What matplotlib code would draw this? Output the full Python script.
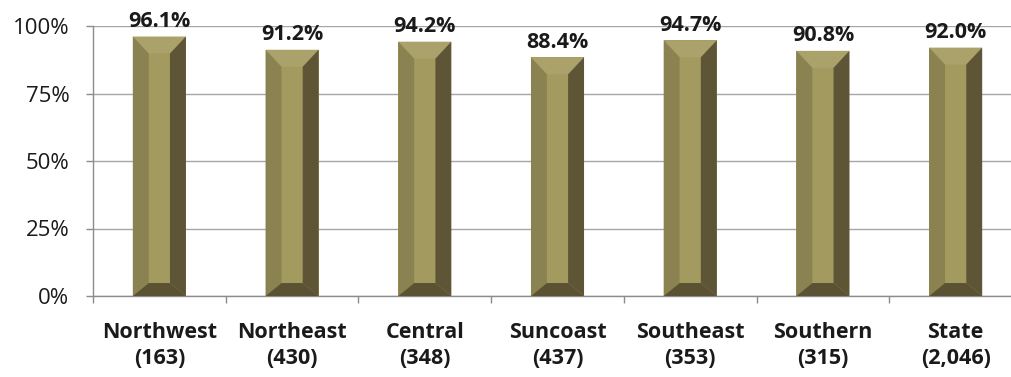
import matplotlib
matplotlib.use("Agg")
import matplotlib.pyplot as plt
from matplotlib.patches import Polygon
from matplotlib.ticker import FixedLocator, PercentFormatter

regions = ["Northwest", "Northeast", "Central", "Suncoast", "Southeast", "Southern", "State"]
counts = ["163", "430", "348", "437", "353", "315", "2,046"]
rates = [96.1, 91.2, 94.2, 88.4, 94.7, 90.8, 92.0]

plt.rcParams['font.family'] = ['Open Sans', 'DejaVu Sans']

fig = plt.figure(figsize=(10.12, 3.77), dpi=100)
ax = fig.add_axes([93/1012, 81/377, 929/1012, 270/377])

x = list(range(len(regions)))
bars = ax.bar(x, rates, width=0.4, color="#a39a60", zorder=3)

# bevelled look: light top, mid left, dark right and bottom
dx = 0.12
dy_top = 6.3
dy_bot = 4.8
for b in bars:
    x0 = b.get_x()
    x1 = x0 + b.get_width()
    y0 = 0
    y1 = b.get_height()
    sides = [
        ([(x0, y1), (x1, y1), (x1 - dx, y1 - dy_top), (x0 + dx, y1 - dy_top)], "#aaa26a"),
        ([(x0, y0), (x0, y1), (x0 + dx, y1 - dy_top), (x0 + dx, y0 + dy_bot)], "#8a8250"),
        ([(x1, y0), (x1, y1), (x1 - dx, y1 - dy_top), (x1 - dx, y0 + dy_bot)], "#5d5535"),
        ([(x0, y0), (x1, y0), (x1 - dx, y0 + dy_bot), (x0 + dx, y0 + dy_bot)], "#5a5233"),
    ]
    for pts, c in sides:
        ax.add_patch(Polygon(pts, closed=True, facecolor=c, edgecolor="none", zorder=4))
    ax.annotate(f"{y1:.1f}%", (b.get_x() + b.get_width() / 2, y1),
                xytext=(0, 7), textcoords="offset points", ha="center", va="baseline",
                fontsize=15.5, fontweight="bold", color="#1a1a1a", zorder=5)

ax.set_xlim(-0.5, 6.5)
ax.set_ylim(0, 100)
ax.yaxis.set_major_locator(FixedLocator([0, 25, 50, 75, 100]))
ax.yaxis.set_major_formatter(PercentFormatter(decimals=0))
ax.grid(axis="y", color="#a6a6a6", linewidth=1, zorder=0)

ax.set_xticks([i - 0.5 for i in range(len(regions) + 1)])
ax.set_xticklabels([])
ax.set_xticks(x, minor=True)
ax.set_xticklabels([f"{r}\n({c})" for r, c in zip(regions, counts)], minor=True,
                   fontsize=15.5, fontweight="bold", color="#1a1a1a", linespacing=1.28)
ax.tick_params(axis="x", which="minor", length=0, pad=19)
ax.tick_params(axis="x", which="major", length=5, color="#8c8c8c", width=1)
ax.tick_params(axis="y", length=5, color="#8c8c8c", width=1, labelsize=16,
               labelcolor="#1a1a1a", pad=12)

for s in ["top", "right"]:
    ax.spines[s].set_visible(False)
for s in ["left", "bottom"]:
    ax.spines[s].set_color("#8c8c8c")
    ax.spines[s].set_linewidth(1)

fig.savefig("out.png", dpi=100)
